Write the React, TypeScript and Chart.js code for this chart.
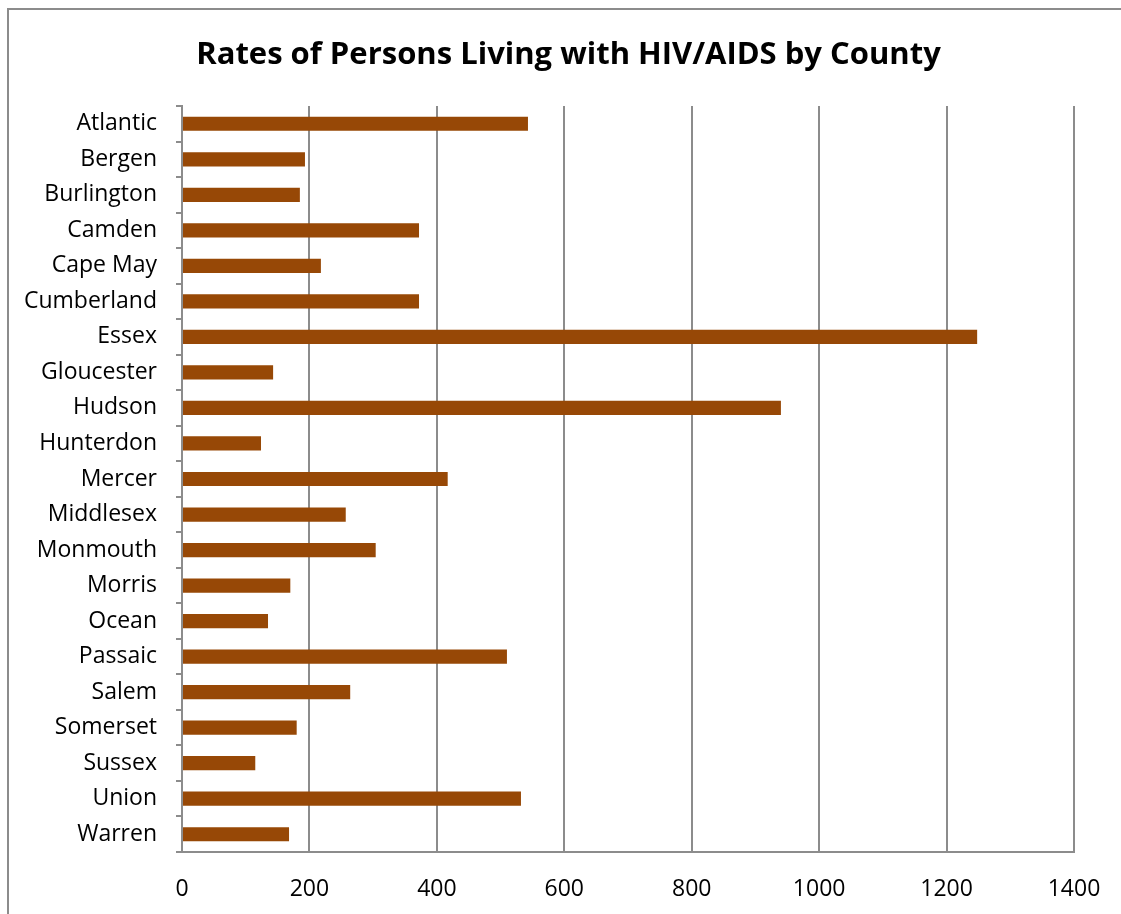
import React, { useEffect, useRef } from "react";
import { Chart, registerables } from "chart.js";

Chart.register(...registerables);

const counties = [
  "Atlantic", "Bergen", "Burlington", "Camden", "Cape May", "Cumberland", "Essex",
  "Gloucester", "Hudson", "Hunterdon", "Mercer", "Middlesex", "Monmouth", "Morris",
  "Ocean", "Passaic", "Salem", "Somerset", "Sussex", "Union", "Warren",
];
const rates = [
  543, 193, 185, 372, 218, 372, 1248,
  143, 940, 124, 417, 257, 304, 170,
  135, 510, 264, 180, 115, 532, 168,
];
const titleText = "Rates of Persons Living with HIV/AIDS by County";
const xMin = 0;
const xMax = 1400;
const xStep = 200;

const FONT = "'Open Sans', sans-serif";
const GRID = "#8c8c8c";

const titlePlugin = {
  id: "offsetTitle",
  afterDraw(chart: any) {
    const ctx = chart.ctx;
    ctx.save();
    ctx.font = `bold 31px ${FONT}`;
    ctx.fillStyle = "#000";
    ctx.textAlign = "center";
    ctx.textBaseline = "middle";
    ctx.fillText(titleText, 568.5, 55);
    ctx.restore();
  },
};

export default function App() {
  const ref = useRef<HTMLCanvasElement | null>(null);
  useEffect(() => {
    if (!ref.current) return;
    const chart = new Chart(ref.current, {
      type: "bar",
      data: {
        labels: counties,
        datasets: [
          {
            data: rates,
            backgroundColor: "#974806",
            categoryPercentage: 1,
            barPercentage: 0.4,
          },
        ],
      },
      options: {
        indexAxis: "y",
        animation: false,
        responsive: false,
        maintainAspectRatio: false,
        layout: { padding: { left: 0, right: 47, top: 106, bottom: 0 } },
        plugins: {
          legend: { display: false },
          tooltip: { enabled: false },
          title: { display: false },
        },
        scales: {
          x: {
            min: xMin,
            max: xMax,
            ticks: {
              stepSize: xStep,
              color: "#000",
              font: { family: FONT, size: 23 },
              padding: 24,
              maxRotation: 0,
              callback: (v: any) => String(v),
            },
            grid: {
              color: GRID,
              lineWidth: 2,
              drawTicks: false,
            },
            border: { display: true, color: GRID, width: 2 },
            afterFit: (s: any) => {
              s.height = 62;
              s.paddingLeft = 0;
              s.paddingRight = 0;
            },
          },
          y: {
            ticks: {
              color: "#000",
              font: { family: FONT, size: 23 },
              padding: 19,
              autoSkip: false,
            },
            grid: {
              color: GRID,
              lineWidth: 2,
              drawOnChartArea: false,
              drawTicks: true,
              tickLength: 6,
              offset: true,
            },
            border: { display: true, color: GRID, width: 2 },
            afterFit: (s: any) => {
              s.width = 182;
              s.paddingTop = 0;
              s.paddingBottom = 0;
            },
          },
        },
      },
      plugins: [titlePlugin],
    });
    return () => chart.destroy();
  }, []);
  return (
    <div style={{ position: "fixed", left: 0, top: 0, width: 1121, height: 914, background: "#fff" }}>
      <div
        style={{
          position: "absolute",
          left: 7,
          top: 8,
          width: 1200,
          height: 1000,
          borderLeft: "2px solid #8c8c8c",
          borderTop: "2px solid #8c8c8c",
          boxSizing: "border-box",
        }}
      />
      <canvas ref={ref} width={1121} height={914} style={{ position: "absolute", left: 0, top: 0 }} />
    </div>
  );
}
